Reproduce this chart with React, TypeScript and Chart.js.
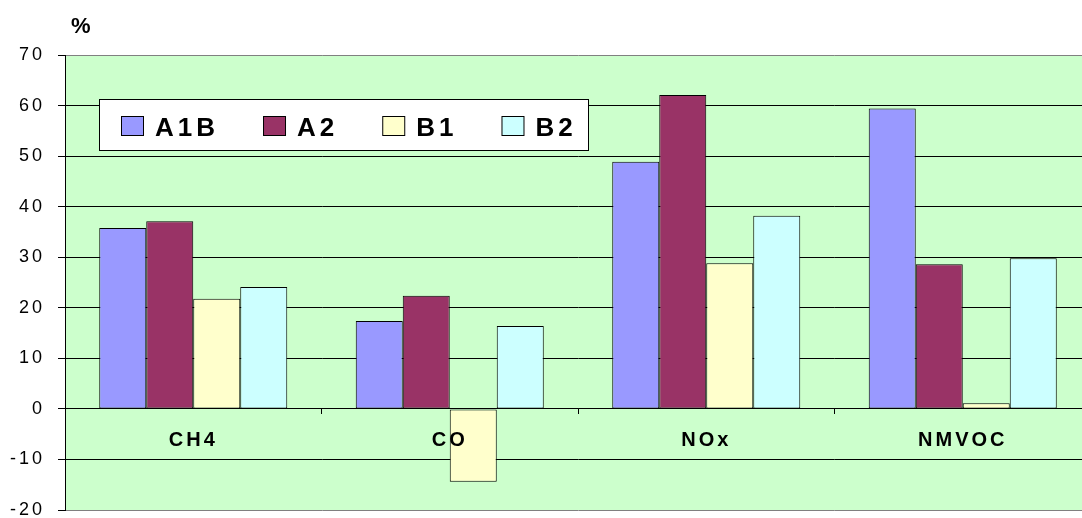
import React, { useEffect, useRef } from "react";
import { Chart, registerables } from "chart.js";

Chart.register(...registerables);

// Emission change by species and scenario (%)
const categories = ["CH4", "CO", "NOx", "NMVOC"];
const seriesNames = ["A1B", "A2", "B1", "B2"];
const a1bValues = [35.8, 17.4, 48.9, 59.4];
const a2Values = [37.1, 22.4, 62.1, 28.6];
const b1Values = [21.8, -14.4, 28.8, 1.1];
const b2Values = [24.1, 16.4, 38.2, 29.8];
const seriesColors = ["#9999FF", "#993366", "#FFFFCC", "#CCFFFF"];
const yMin = -20;
const yMax = 70;
const yStep = 10;
const unitLabel = "%";

const FONT = '"Liberation Sans", Arial, sans-serif';

const plotBackground = {
  id: "plotBackground",
  beforeDraw(chart: any) {
    const { ctx, chartArea } = chart;
    ctx.save();
    ctx.fillStyle = "#CCFFCC";
    ctx.fillRect(chartArea.left, chartArea.top, chartArea.right - chartArea.left, chartArea.bottom - chartArea.top);
    ctx.restore();
    // spaced lettering for axis labels
    ctx.letterSpacing = "3px";
  },
};

const unitTitle = {
  id: "unitTitle",
  afterDraw(chart: any) {
    const { ctx } = chart;
    ctx.save();
    ctx.letterSpacing = "0px";
    ctx.font = `bold 22px ${FONT}`;
    ctx.fillStyle = "#000";
    ctx.textAlign = "left";
    ctx.textBaseline = "alphabetic";
    ctx.fillText(unitLabel, 71, 33);
    ctx.restore();
  },
};

const boxedLegend = {
  id: "boxedLegend",
  afterDraw(chart: any) {
    const { ctx } = chart;
    const box = { x: 99.5, y: 99.5, w: 489, h: 51 };
    ctx.save();
    ctx.fillStyle = "#FFFFFF";
    ctx.fillRect(box.x, box.y, box.w, box.h);
    ctx.strokeStyle = "#000";
    ctx.lineWidth = 1;
    ctx.strokeRect(box.x, box.y, box.w, box.h);
    ctx.font = `bold 26px ${FONT}`;
    ctx.letterSpacing = "4px";
    ctx.textAlign = "left";
    ctx.textBaseline = "alphabetic";
    let x = 121;
    chart.data.datasets.forEach((ds: any) => {
      ctx.fillStyle = ds.backgroundColor;
      ctx.fillRect(x + 0.5, 116.5, 22, 19);
      ctx.strokeStyle = "#000";
      ctx.strokeRect(x + 0.5, 116.5, 22, 19);
      ctx.fillStyle = "#000";
      const tx = x + 34;
      ctx.fillText(ds.label, tx, 136);
      x = tx + ctx.measureText(ds.label).width + 44;
    });
    ctx.restore();
  },
};

export default function App() {
  const canvasRef = useRef<HTMLCanvasElement | null>(null);

  useEffect(() => {
    const canvas = canvasRef.current;
    if (!canvas) return;
    const valueSets = [a1bValues, a2Values, b1Values, b2Values];
    const chart = new Chart(canvas, {
      type: "bar",
      data: {
        labels: categories,
        datasets: seriesNames.map((name, i) => ({
          label: name,
          data: valueSets[i],
          backgroundColor: seriesColors[i],
          borderColor: "#000000",
          borderWidth: 1,
          borderSkipped: false,
          categoryPercentage: 0.733,
          barPercentage: 1,
        })),
      },
      options: {
        responsive: false,
        animation: false,
        devicePixelRatio: 1,
        layout: { padding: { left: 0, top: 55, right: 4, bottom: 8 } },
        plugins: {
          legend: { display: false },
          title: { display: false },
          tooltip: { enabled: false },
        },
        scales: {
          x: {
            position: { y: 0 } as any,
            offset: true,
            afterFit(scale: any) {
              scale.height = 0;
              scale.paddingLeft = 0;
              scale.paddingRight = 0;
            },
            grid: {
              display: true,
              drawOnChartArea: false,
              drawTicks: true,
              tickLength: 5,
              offset: true,
              color: "#000000",
              z: 1,
            },
            border: { display: true, color: "#000000", width: 1, z: 1 },
            ticks: {
              z: 1,
              padding: 15,
              color: "#000000",
              maxRotation: 0,
              font: { family: FONT, size: 20, weight: "bold" },
            },
          },
          y: {
            min: yMin,
            max: yMax,
            afterFit(scale: any) {
              scale.width = 65;
              scale.paddingTop = 0;
              scale.paddingBottom = 0;
            },
            grid: {
              color: (c: any) =>
                c.tick && (c.tick.value === yMax || c.tick.value === yMin) ? "#808080" : "#000000",
              lineWidth: 1,
              tickLength: 7,
              tickColor: "#000000",
            },
            border: { display: true, color: "#000000", width: 1 },
            ticks: {
              stepSize: yStep,
              padding: 13,
              color: "#000000",
              font: { family: FONT, size: 18 },
            },
          },
        },
      },
      plugins: [plotBackground, boxedLegend, unitTitle],
    });
    return () => chart.destroy();
  }, []);

  return (
    <div
      style={{
        position: "fixed",
        left: 0,
        top: 0,
        width: 1082,
        height: 518,
        overflow: "hidden",
        background: "#FFFFFF",
      }}
    >
      <canvas ref={canvasRef} width={1095} height={518} style={{ display: "block" }} />
    </div>
  );
}
